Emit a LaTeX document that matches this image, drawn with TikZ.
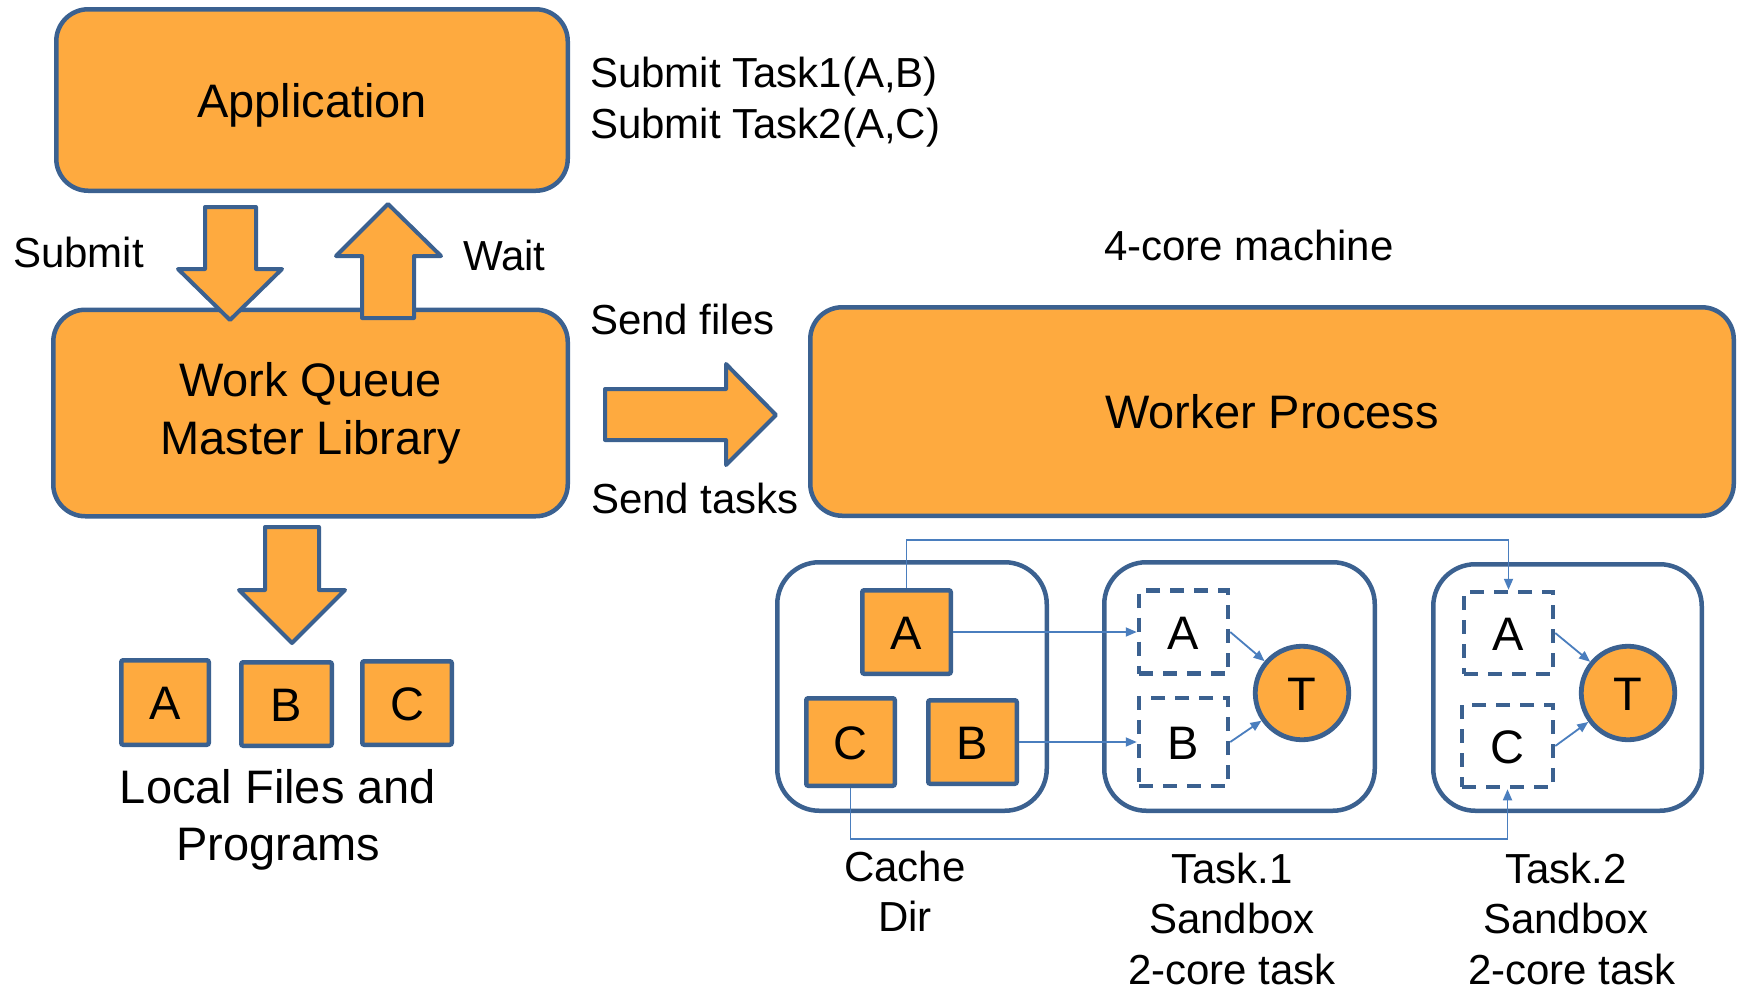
\documentclass[tikz,border=0pt]{standalone}
\usepackage{fontspec}
\setmainfont{Liberation Sans}
\usetikzlibrary{arrows.meta}
\definecolor{orng}{HTML}{FEAA3F}
\definecolor{bord}{HTML}{3B6190}
\definecolor{conncol}{HTML}{4A7EBE}
\newcommand\fbig{\fontsize{47}{57}\selectfont}
\newcommand\fsml{\fontsize{42}{50.5}\selectfont}
\begin{document}
\begin{tikzpicture}[x=1pt,y=-1pt,
  bigbox/.style={draw=bord, fill=orng, line width=4.5pt, rounded corners=32pt, inner sep=0pt, font=\fbig, text height=34pt, text depth=0pt},
  wqbox/.style={draw=bord, fill=orng, line width=4.5pt, rounded corners=32pt, inner sep=0pt, font=\fontsize{47}{58}\selectfont, align=center},
  filebox/.style={draw=bord, fill=orng, line width=4.5pt, rounded corners=2pt, inner sep=0pt, font=\fbig, text height=34pt, text depth=0pt},
  sandbox/.style={draw=bord, fill=white, line width=4.5pt, rounded corners=42pt, inner sep=0pt},
  dashbox/.style={draw=bord, line width=4.5pt, dash pattern=on 14pt off 10pt, inner sep=0pt, font=\fbig, text height=34pt, text depth=0pt},
  tcirc/.style={circle, draw=bord, fill=orng, line width=4.8pt, minimum size=93.5pt, inner sep=0pt, font=\fbig, text height=34pt, text depth=0pt},
  blockarrow/.style={draw=bord, fill=orng, line width=4pt, line join=round},
  conn/.style={draw=conncol, line width=1.8pt, -{Triangle[length=11pt,width=9pt]}},
  lbl/.style={inner sep=0pt, font=\fsml},
  biglbl/.style={inner sep=0pt, font=\fbig}]
\useasboundingbox (0,0) rectangle (1745,988);

% main boxes
\node[bigbox, minimum width=511.5pt, minimum height=181.5pt] (app) at (312,100) {Application};
\node[wqbox, minimum width=514.5pt, minimum height=206.5pt] (wq) at (310.5,413) {Work Queue\\Master Library};
\node[bigbox, minimum width=923.5pt, minimum height=208.5pt] (worker) at (1272,411.5) {Worker Process};

% sandboxes
\node[sandbox, minimum width=269.5pt, minimum height=248.5pt] (cache) at (912,686.5) {};
\node[sandbox, minimum width=270.5pt, minimum height=248.5pt] (task1) at (1239.5,686.5) {};
\node[sandbox, minimum width=268.5pt, minimum height=246.5pt] (task2) at (1567.5,687.5) {};

% local files
\node[filebox, minimum width=87.5pt, minimum height=84.5pt] (fA) at (165,702.5) {A};
\node[filebox, minimum width=90.5pt, minimum height=83.5pt] (fB) at (286.5,704) {B};
\node[filebox, minimum width=89.5pt, minimum height=83.5pt] (fC) at (407,703) {C};

% cache files
\node[filebox, minimum width=88.5pt, minimum height=83.5pt] (cA) at (906.5,632) {A};
\node[filebox, minimum width=88.5pt, minimum height=87.5pt] (cC) at (850.5,742) {C};
\node[filebox, minimum width=88.5pt, minimum height=83.5pt] (cB) at (972.5,742) {B};

% task 1
\node[dashbox, minimum width=89pt, minimum height=83pt] (dA1) at (1183.5,632) {A};
\node[dashbox, minimum width=89pt, minimum height=88pt] (dB1) at (1183.5,742) {B};
\node[tcirc] (T1) at (1302,693) {T};

% task 2
\node[dashbox, minimum width=89pt, minimum height=82pt] (dA2) at (1508.5,633) {A};
\node[dashbox, minimum width=91pt, minimum height=82pt] (dC2) at (1507.5,746) {C};
\node[tcirc] (T2) at (1628,693) {T};

% connectors
\draw[conn] (cA.north) -- ++(0,-48) -| (dA2.north);
\draw[conn] (cC.south) -- ++(0,51) -| (dC2.south);
\draw[conn] (cA.east) -- (dA1.west);
\draw[conn] (cB.east) -- (dB1.west);
\draw[conn] (dA1.east) -- (T1);
\draw[conn] (dB1.east) -- (T1);
\draw[conn] (dA2.east) -- (T2);
\draw[conn] (dC2.east) -- (T2);

% block arrows
\draw[blockarrow] (205,207) -- (256,207) -- (256,269) -- (282,269) -- (230,320) -- (178,269) -- (205,269) -- cycle;
\draw[blockarrow] (362,318) -- (414,318) -- (414,256) -- (441,256) -- (388,204) -- (336,256) -- (362,256) -- cycle;
\draw[blockarrow] (605,389) -- (726,389) -- (726,364) -- (776,415) -- (726,465) -- (726,440) -- (605,440) -- cycle;
\draw[blockarrow] (265,527) -- (319,527) -- (319,590) -- (345,590) -- (292,643) -- (239,590) -- (265,590) -- cycle;

% labels
\node[lbl, anchor=base west] (lsubmit) at (13,267) {Submit};
\node[lbl, anchor=base west] (lwait) at (463,270) {Wait};
\node[lbl, anchor=north west, align=left, font=\fontsize{42}{51}\selectfont] (ltasks) at (590,56.5) {Submit Task1(A,B)\\Submit Task2(A,C)};
\node[lbl, anchor=base west] (lcore) at (1104,260) {4-core machine};
\node[lbl, anchor=base west] (lsendf) at (590,334) {Send files};
\node[lbl, anchor=base west] (lsendt) at (591,513) {Send tasks};
\node[biglbl, anchor=north, align=center] (llocal) at (278,769.5) {Local Files and\\Programs};
\node[lbl, anchor=north, align=center, font=\fontsize{42}{50}\selectfont] (lcache) at (905,851) {Cache\\Dir};
\node[lbl, anchor=north, align=center] (ltask1) at (1232,852.5) {Task.1\\Sandbox\\2-core task};
\node[lbl, anchor=north, align=center] (ltask2) at (1566,852.5) {Task.2\\Sandbox\\\hspace*{12pt}2-core task};
\end{tikzpicture}
\end{document}
